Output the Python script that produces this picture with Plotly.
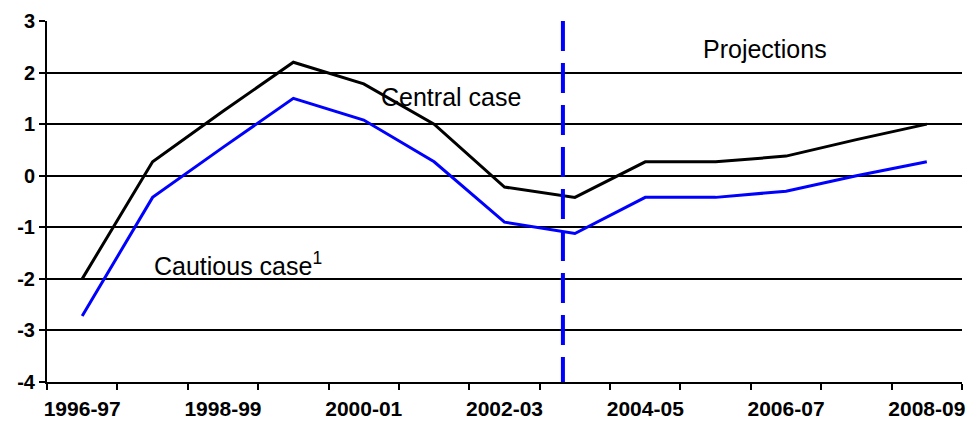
import plotly.graph_objects as go

# Fiscal years on the horizontal axis
years = ["1996-97", "1997-98", "1998-99", "1999-00", "2000-01", "2001-02", "2002-03",
         "2003-04", "2004-05", "2005-06", "2006-07", "2007-08", "2008-09"]

# Per cent of potential output
central_case = [-2.0, 0.27, 1.25, 2.2, 1.78, 1.0, -0.22, -0.42, 0.27, 0.27, 0.38, 0.7, 1.0]
cautious_case = [-2.72, -0.42, 0.55, 1.5, 1.08, 0.27, -0.9, -1.12, -0.42, -0.42, -0.3, 0.0, 0.27]

# Y-axis ticks (plain hyphen as minus sign)
y_ticks = [-4, -3, -2, -1, 0, 1, 2, 3]
y_tick_text = [str(v) for v in y_ticks]

# Start of the projection period (position on the year index)
projection_start = 6.83

idx = list(range(len(years)))
label_idx = idx[::2]
label_text = years[::2]
boundaries = [i - 0.5 for i in idx] + [idx[-1] + 0.5]

fig = go.Figure()
fig.add_trace(go.Scatter(x=idx, y=central_case, mode="lines", name="Central case",
                         line=dict(color="black", width=3)))
fig.add_trace(go.Scatter(x=idx, y=cautious_case, mode="lines", name="Cautious case",
                         line=dict(color="#0000ff", width=3)))

fig.add_shape(type="line", xref="x", yref="paper", x0=projection_start, x1=projection_start,
              y0=1, y1=0, line=dict(color="#0000ff", width=4, dash="30px,12px"))

label_font = dict(family="Liberation Sans, Arial, sans-serif", size=25, color="black")
fig.add_annotation(x=5.24, y=1.52, text="Central case", showarrow=False, font=label_font)
fig.add_annotation(x=0.99, y=-1.72, text="Cautious case<sup>1</sup>", showarrow=False,
                   xanchor="left", font=label_font)
fig.add_annotation(x=9.7, y=2.45, text="Projections", showarrow=False, font=label_font)

fig.update_layout(
    width=973, height=428,
    margin=dict(l=47, r=8, t=21, b=43),
    paper_bgcolor="white", plot_bgcolor="white",
    showlegend=False,
    font=dict(family="Liberation Sans, Arial, sans-serif", color="black"),
)
fig.update_xaxes(
    range=[-0.5, 12.5], tickmode="array", tickvals=label_idx, ticktext=label_text,
    tickangle=0, ticks="", ticklabelstandoff=7,
    minor=dict(tickmode="array", tickvals=boundaries, ticks="outside", ticklen=6,
               tickwidth=2, tickcolor="black", showgrid=False),
    showline=True, linecolor="black", linewidth=2, showgrid=False, zeroline=False,
    tickfont=dict(size=21, family="Liberation Sans, Arial, sans-serif", weight="bold"),
)
fig.update_yaxes(
    range=[-4, 3], tickmode="array", tickvals=y_ticks, ticktext=y_tick_text,
    ticks="outside", ticklen=6, tickwidth=2, tickcolor="black",
    showline=True, linecolor="black", linewidth=2,
    showgrid=True, gridcolor="black", gridwidth=1.5,
    zeroline=True, zerolinecolor="black", zerolinewidth=1.5,
    tickfont=dict(size=20, family="Liberation Sans, Arial, sans-serif", weight="bold"),
)

fig.write_html("out.html")
